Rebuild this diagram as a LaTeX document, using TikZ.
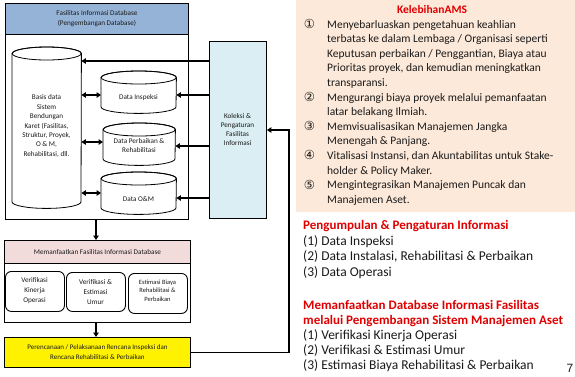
\documentclass[tikz,border=0pt]{standalone}
\usepackage{fontspec}
\setmainfont{Carlito}
\newfontfamily\symfont{DejaVu Sans}
\newfontfamily\numfont{Liberation Sans}
\usetikzlibrary{arrows.meta}

\definecolor{hdrblue}{HTML}{95B3D7}
\definecolor{kolblue}{HTML}{DAEEF3}
\definecolor{hdrpink}{HTML}{F2DCDB}
\definecolor{peach}{HTML}{FDE9D9}
\definecolor{ttlred}{HTML}{E00000}
\definecolor{ink}{HTML}{1A1A1A}

% cylinder outline drawn inside the bounding rectangle of a node
\newcommand\drawcyl[3]{%
  \draw[cylline, fill=white] ([yshift=-#3]#1.north west) -- ([yshift=#3]#1.south west)
    arc[start angle=180, end angle=360, x radius=#2, y radius=#3]
    -- ([yshift=-#3]#1.north east)
    arc[start angle=0, end angle=180, x radius=#2, y radius=#3] -- cycle;
  \draw[cylline] ([yshift=-#3]#1.north) ellipse[x radius=#2, y radius=#3];
}

\begin{document}
\begin{tikzpicture}[x=1pt, y=-1pt,
  box/.style={draw=black, line width=0.9pt, inner sep=0pt, anchor=north west},
  frame/.style={inner sep=0pt, anchor=north west},
  cylline/.style={draw=black, line width=0.8pt},
  small/.style={font=\fontsize{7.2}{9.4}\selectfont, text=ink, align=center, inner sep=0pt},
  tiny/.style={font=\fontsize{6.5}{8.5}\selectfont, text=ink, align=center, inner sep=0pt},
  tip/.style={-{Triangle[length=4.5pt,width=5.5pt]}},
  flow/.style={line width=1.6pt, tip},
  dflow/.style={line width=1.6pt, {Triangle[length=4.5pt,width=5.5pt]}-{Triangle[length=4.5pt,width=5.5pt]}},
  rtext/.style={font=\fontsize{11.5}{14}\selectfont, text=ink, anchor=base west, inner sep=0pt},
  ltext/.style={font=\fontsize{13.5}{15}\selectfont, text=ink, anchor=base west, inner sep=0pt},
  lhead/.style={font=\fontsize{13}{15}\selectfont\bfseries, text=ttlred, anchor=base west, inner sep=0pt},
  rnum/.style={font=\fontsize{12.5}{14}\selectfont\symfont, text=ink, anchor=base, inner sep=0pt}]

\useasboundingbox (0,0) rectangle (575,376);
\fill[white] (0,0) rectangle (575,376);

% ---------------- right panel ----------------
\fill[peach] (296,0) rectangle (575,212);

\node[font=\fontsize{11.5}{14}\selectfont\bfseries, text=ttlred, anchor=base, inner sep=0pt] (ttl) at (432,13.5) {KelebihanAMS};

\node[rnum] (n1) at (309.5,28.5) {①};
\node[rtext] (l1) at (327,28.0) {Menyebarluaskan pengetahuan keahlian};
\node[rtext] (l2) at (327,42.6) {terbatas ke dalam Lembaga / Organisasi seperti};
\node[rtext] (l3) at (327,57.2) {Keputusan perbaikan / Penggantian, Biaya atau};
\node[rtext] (l4) at (327,71.8) {Prioritas proyek, dan kemudian meningkatkan};
\node[rtext] (l5) at (327,86.4) {transparansi.};
\node[rnum] (n2) at (309.5,101.5) {②};
\node[rtext] (l6) at (327,101.0) {Mengurangi biaya proyek melalui pemanfaatan};
\node[rtext] (l7) at (327,115.6) {latar belakang Ilmiah.};
\node[rnum] (n3) at (309.5,130.7) {③};
\node[rtext] (l8) at (327,130.2) {Memvisualisasikan Manajemen Jangka};
\node[rtext] (l9) at (327,144.8) {Menengah \& Panjang.};
\node[rnum] (n4) at (309.5,159.9) {④};
\node[rtext] (l10) at (327,159.4) {Vitalisasi Instansi, dan Akuntabilitas untuk Stake-};
\node[rtext] (l11) at (327,174.0) {holder \& Policy Maker.};
\node[rnum] (n5) at (309.5,189.1) {⑤};
\node[rtext] (l12) at (327,188.6) {Mengintegrasikan Manajemen Puncak dan};
\node[rtext] (l13) at (327,203.2) {Manajemen Aset.};

\node[lhead] (h1) at (303,229.5) {Pengumpulan \& Pengaturan Informasi};
\node[ltext] (p1) at (303,245.0) {(1) Data Inspeksi};
\node[ltext] (p2) at (303,260.5) {(2) Data Instalasi, Rehabilitasi \& Perbaikan};
\node[ltext] (p3) at (303,276.0) {(3) Data Operasi};

\node[lhead] (h2) at (303,309.5) {Memanfaatkan Database Informasi Fasilitas};
\node[lhead] (h3) at (303,324.5) {melalui Pengembangan Sistem Manajemen Aset};
\node[ltext] (q1) at (303,339.5) {(1) Verifikasi Kinerja Operasi};
\node[ltext] (q2) at (303,354.5) {(2) Verifikasi \& Estimasi Umur};
\node[ltext] (q3) at (303,369.5) {(3) Estimasi Biaya Rehabilitasi \& Perbaikan};

\node[font=\fontsize{12}{14}\selectfont\numfont, text=ink, anchor=base, inner sep=0pt] (pg) at (570,372) {7};

% ---------------- database block ----------------
\node[box, minimum width=183pt, minimum height=216pt] (fid) at (5,3) {};
\node[box, fill=hdrblue, minimum width=183pt, minimum height=31pt] (fidh) at (5,3) {};
\node[small, font=\fontsize{7.2}{10}\selectfont] (fidt) at (fidh.center) {Fasilitas Informasi Database\\(Pengembangan Database)};

\node[frame, minimum width=69pt, minimum height=161pt] (big) at (12,47) {};
\node[frame, minimum width=75pt, minimum height=42pt] (insp) at (101,71) {};
\node[frame, minimum width=72pt, minimum height=42pt] (perb) at (103,123) {};
\node[frame, minimum width=75pt, minimum height=42pt] (om) at (101,172) {};
\drawcyl{big}{34.5pt}{6.5pt}
\drawcyl{insp}{37.5pt}{6.5pt}
\drawcyl{perb}{36pt}{6.5pt}
\drawcyl{om}{37.5pt}{6.5pt}

\node[small] (bigt) at (46.5,126) {Basis data\\Sistem\\Bendungan\\Karet (Fasilitas,\\Struktur, Proyek,\\O \& M,\\Rehabilitasi, dll.};
\node[small] (inspt) at (138.5,97.5) {Data Inspeksi};
\node[small] (perbt) at (139,145.5) {Data Perbaikan \&\\Rehabilitasi};
\node[small] (omt) at (138.5,199.5) {Data O\&M};

% collection block
\node[box, fill=kolblue, minimum width=57pt, minimum height=177pt] (kol) at (209,41) {};
\node[small, font=\fontsize{7.2}{9}\selectfont] (kolt) at (237.5,129.5) {Koleksi \&\\Pengaturan\\Fasilitas\\Informasi};

% links between databases
\draw[dflow] (big.east |- 0,95) -- (insp.west |- 0,95);
\draw[dflow] (big.east |- 0,142) -- (perb.west |- 0,142);
\draw[dflow] (big.east |- 0,193) -- (om.west |- 0,193);

\draw[flow] (kol.west |- 0,61) -- (big.east |- 0,61);
\draw[flow] (kol.west |- 0,95) -- (insp.east |- 0,95);
\draw[flow] (kol.west |- 0,146) -- (perb.east |- 0,146);
\draw[flow] (kol.west |- 0,198) -- (om.east |- 0,198);

% ---------------- utilisation block ----------------
\node[box, minimum width=186pt, minimum height=82pt] (mem) at (4,240) {};
\node[box, fill=hdrpink, minimum width=186pt, minimum height=23pt] (memh) at (4,240) {};
\node[small] (memt) at (memh.center) {Memanfaatkan Fasilitas Informasi Database};

\node[box, rounded corners=6pt, minimum width=59pt, minimum height=40pt] (v1) at (5,271) {};
\node[box, rounded corners=6pt, minimum width=59pt, minimum height=39pt] (v2) at (66,272) {};
\node[box, rounded corners=6pt, minimum width=59pt, minimum height=40pt] (v3) at (128,273) {};
\node[small, font=\fontsize{7.2}{10}\selectfont] (v1t) at (34.5,291) {Verifikasi\\Kinerja\\Operasi};
\node[small, font=\fontsize{7.2}{10}\selectfont] (v2t) at (95.5,292) {Verifikasi \&\\Estimasi\\Umur};
\node[tiny] (v3t) at (157.5,290.5) {Estimasi Biaya\\Rehabilitasi \&\\Perbaikan};

% planning block
\node[box, fill=yellow, minimum width=186pt, minimum height=30pt] (yel) at (4,337) {};
\node[small, font=\fontsize{7}{10}\selectfont] (yelt) at (yel.center) {Perencanaan / Pelaksanaan Rencana Inspeksi dan\\Rencana Rehabilitasi \& Perbaikan};

% ---------------- flow arrows ----------------
\draw[flow] (fid.south -| 96,0) -- (mem.north -| 96,0);
\draw[flow] (mem.south -| 96,0) -- (yel.north -| 96,0);
\draw[line width=1.6pt, tip] (yel.east) -| ([xshift=22pt]kol.east |- 0,130) -- (kol.east |- 0,130);

\end{tikzpicture}
\end{document}
